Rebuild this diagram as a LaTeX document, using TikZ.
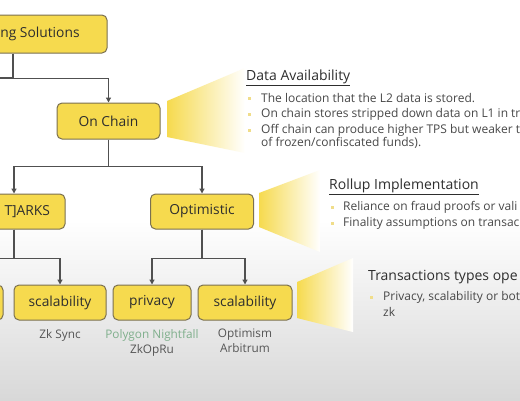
\documentclass[tikz,border=0pt]{standalone}
\usepackage{fontspec}
\setmainfont{Open Sans}
\usetikzlibrary{positioning, arrows.meta}

\definecolor{eyyel}{HTML}{F6DA4E}
\definecolor{edgec}{HTML}{7A7050}
\definecolor{linec}{HTML}{505050}
\definecolor{txtc}{HTML}{2E2E2E}
\definecolor{bodyc}{HTML}{484848}
\definecolor{subc}{HTML}{555555}
\definecolor{pngreen}{HTML}{7FAF8C}
\definecolor{bulc}{HTML}{F0DD8A}
\definecolor{bgg}{HTML}{D8D8D8}

\tikzset{
  box/.style={draw=edgec, fill=eyyel, rounded corners=5pt, line width=1pt,
    minimum height=35pt, inner sep=0pt, text=txtc,
    font=\fontsize{13.8}{15}\selectfont},
  arr/.style={-{Triangle[width=5pt,length=5pt]}, line width=1.2pt, draw=linec},
  link/.style={line width=1.2pt, draw=linec},
  sub/.style={text=subc, align=center, font=\fontsize{11.8}{15}\selectfont},
  ttl/.style={anchor=west, inner sep=0pt, text=txtc, font=\fontsize{14}{16}\selectfont},
  itm/.style={anchor=west, inner sep=0pt, text=bodyc, font=\fontsize{12}{14}\selectfont},
  bul/.style={fill=bulc, minimum size=3pt, inner sep=0pt},
  callout/.style={left color=eyyel, right color=white}
}

\begin{document}
\begin{tikzpicture}[x=1pt, y=-1pt]
  \useasboundingbox (0,0) rectangle (520,400);
  \clip (0,0) rectangle (520,400);

  % ── background ──
  \fill[white] (0,0) rectangle (520,400);
  \shade[top color=white, bottom color=bgg] (0,220) rectangle (520,400);

  % ── callouts ──
  \shade[callout] (167,101) -- (245,68) -- (245,153) -- (167,137) -- cycle;
  \shade[callout] (259,193) -- (320,170) -- (320,252) -- (259,227) -- cycle;
  \shade[callout] (297,282) -- (353,258) -- (353,332) -- (297,318) -- cycle;

  % ── tree ──
  \node[box, minimum width=134pt, minimum height=38pt] (sol) at (40,34) {ng Solutions};
  \node[box, minimum width=103pt, minimum height=36pt] (oc) at (108.5,121) {On Chain};
  \node[box, text width=72pt, align=right, inner xsep=15pt] (zk) at (14,211.5) {T]ARKS};
  \node[box, minimum width=103pt] (opt) at (202,211.5) {Optimistic};

  \node[box, minimum width=90pt] (lft) at (-42,302.5) {};
  \node[box, minimum width=92pt] (sc1) at (60,302.5) {scalability};
  \node[box, minimum width=78pt] (pri) at (152,302.5) {privacy};
  \node[box, minimum width=94pt] (sc2) at (245,302.5) {scalability};

  % connectors
  \coordinate (solleft) at (-20,78);
  \draw[link] ([xshift=-27pt]sol.south) |- (solleft);
  \draw[arr] ([xshift=-27pt]sol.south) -- ++(0,25) -| (oc.north);
  \draw[arr] (oc.south) -- ++(0,27) -| (zk.north);
  \draw[arr] (oc.south) -- ++(0,27) -| (opt.north);
  \draw[arr] (zk.south) -- ++(0,29) -| (lft.north);
  \draw[arr] (zk.south) -- ++(0,29) -| (sc1.north);
  \draw[arr] (opt.south) -- ++(0,29) -| (pri.north);
  \draw[arr] (opt.south) -- ++(0,29) -| (sc2.north);

  % examples under the leaves
  \node[sub, below=5pt of sc1] (zks) {Zk Sync};
  \node[sub, below=5pt of pri] (nf) {{\color{pngreen}Polygon Nightfall}\\ZkOpRu};
  \node[sub, below=5pt of sc2] (oa) {Optimism\\Arbitrum};

  % ── Data Availability ──
  \node[ttl] (da) at (246,78) {\underline{Data Availability}};
  \foreach \i/\y/\t in {
      1/98/{The location that the L2 data is stored.},
      2/114/{On chain stores stripped down data on L1 in tr},
      3/130/{Off chain can produce higher TPS but weaker t}} {
    \node[bul] (dab\i) at (249,\y) {};
    \node[itm] (dat\i) at (261,\y) {\t};
  }
  \node[itm] (dat4) at (261,143) {of frozen/confiscated funds).};

  % ── Rollup Implementation ──
  \node[ttl] (ri) at (329,187) {\underline{Rollup Implementation}};
  \foreach \i/\y/\t in {
      1/207/{Reliance on fraud proofs or vali},
      2/223/{Finality assumptions on transac}} {
    \node[bul] (rib\i) at (332,\y) {};
    \node[itm] (rit\i) at (343,\y) {\t};
  }

  % ── Transactions types ──
  \node[ttl] (tt) at (368,277) {Transactions types ope};
  \node[bul] (ttb1) at (371,297) {};
  \node[itm] (ttt1) at (383,297) {Privacy, scalability or bot};
  \node[itm] (ttt2) at (383,312) {zk};
\end{tikzpicture}
\end{document}
